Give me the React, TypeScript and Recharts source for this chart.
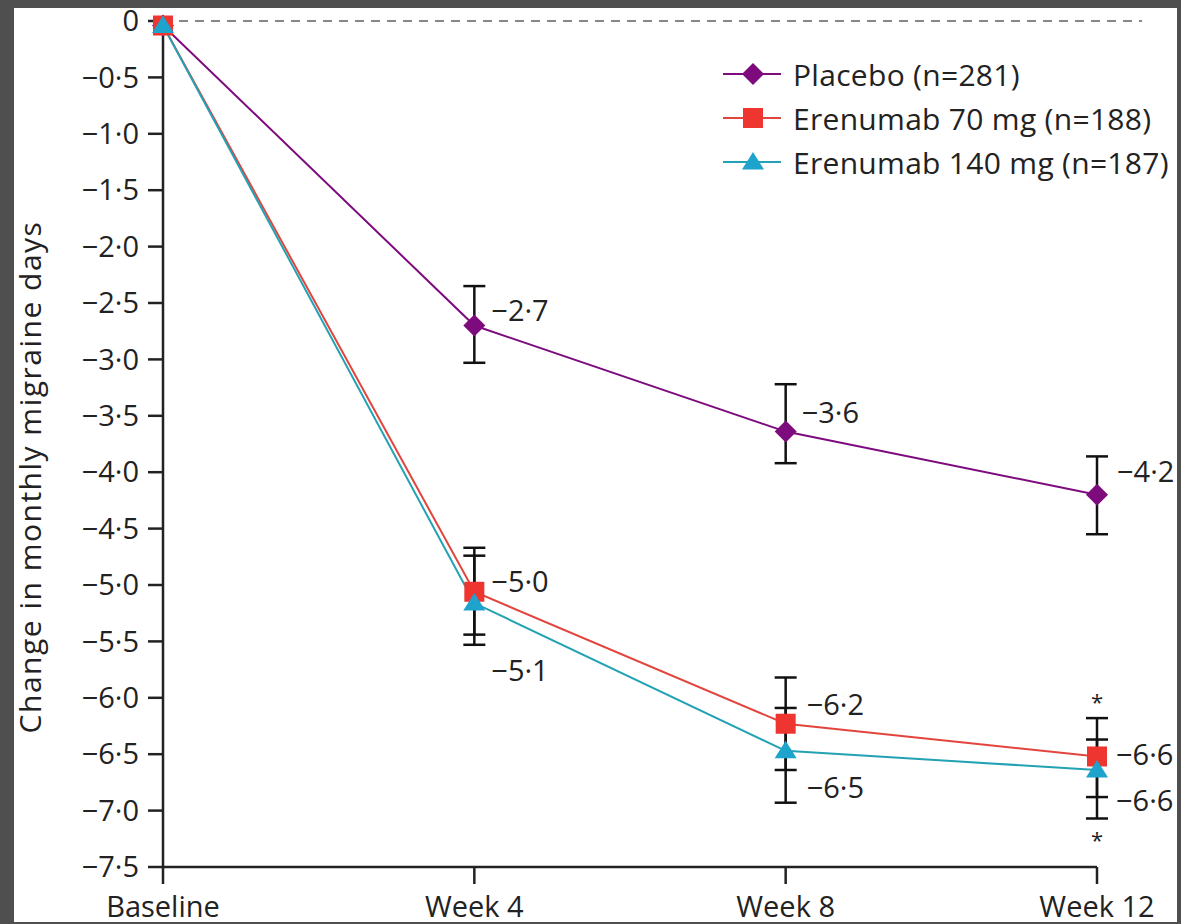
import { LineChart, Line, XAxis, YAxis, ErrorBar, ReferenceLine, LabelList, Label } from "recharts";

// values
const weeks = ["Baseline", "Week 4", "Week 8", "Week 12"];

const placebo = [-0.04, -2.7, -3.64, -4.2];
const placeboLow = [null, -3.03, -3.92, -4.55];
const placeboHigh = [null, -2.35, -3.22, -3.86];
const placeboLabels = ["", "−2·7", "−3·6", "−4·2"];

const ere70 = [-0.04, -5.06, -6.23, -6.52];
const ere70Low = [null, -5.44, -6.64, -6.88];
const ere70High = [null, -4.67, -5.82, -6.18];
const ere70Labels = ["", "−5·0", "−6·2", "−6·6"];
const ere70Sig = ["", "", "", "*"];

const ere140 = [-0.04, -5.16, -6.47, -6.64];
const ere140Low = [null, -5.53, -6.93, -7.07];
const ere140High = [null, -4.74, -6.09, -6.37];
const ere140Labels = ["", "−5·1", "−6·5", "−6·6"];
const ere140Sig = ["", "", "", "*"];

const yTicks = [0, -0.5, -1, -1.5, -2, -2.5, -3, -3.5, -4, -4.5, -5, -5.5, -6, -6.5, -7, -7.5];

const seriesNames = ["Placebo (n=281)", "Erenumab 70 mg (n=188)", "Erenumab 140 mg (n=187)"];

const PURPLE = "#7d0b7d";
const RED = "#ee3530";
const RED_LINE = "#e2453d";
const TEAL = "#1ea3cc";
const TEAL_LINE = "#22a2b4";
const FONT = "'Open Sans', sans-serif";

const err = (mean: number, low: number | null, high: number | null) =>
  low == null || high == null ? null : [mean - low, high - mean];

const data = weeks.map((w, i) => ({
  week: w,
  placebo: placebo[i],
  placeboErr: err(placebo[i], placeboLow[i], placeboHigh[i]),
  placeboLabel: placeboLabels[i],
  ere70: ere70[i],
  ere70Err: err(ere70[i], ere70Low[i], ere70High[i]),
  ere70Label: ere70Labels[i],
  ere70Sig: ere70Sig[i],
  ere140: ere140[i],
  ere140Err: err(ere140[i], ere140Low[i], ere140High[i]),
  ere140Label: ere140Labels[i],
  ere140Sig: ere140Sig[i],
}));

// label nudges [dx, dy] per point index
const nudges: Record<string, number[][]> = {
  placebo: [[0, 0], [17, -16], [16, -20], [20, -24]],
  ere70: [[0, 0], [17, -11], [21, -20], [19, -3]],
  ere140: [[0, 0], [17, 66], [21, 36], [19, 30]],
};

const fmtTick = (v: number) => (v === 0 ? "0" : "−" + Math.abs(v).toFixed(1).replace(".", "·"));

function Diamond({ cx, cy, r = 11, fill }: any) {
  return <path d={`M${cx},${cy - r}L${cx + r},${cy}L${cx},${cy + r}L${cx - r},${cy}Z`} fill={fill} />;
}
function Square({ cx, cy, r = 10, fill }: any) {
  return <rect x={cx - r} y={cy - r} width={r * 2} height={r * 2} fill={fill} />;
}
function Triangle({ cx, cy, r = 10, fill }: any) {
  return <path d={`M${cx},${cy - r}L${cx + r + 1},${cy + r * 0.75}L${cx - r - 1},${cy + r * 0.75}Z`} fill={fill} />;
}

const makeLabel = (key: string) => (p: any) => {
  const { x, y, value, index } = p;
  if (!value) return null;
  const [dx, dy] = nudges[key][index];
  return (
    <text key={`${key}-l-${index}`} x={x + dx} y={y + dy} dominantBaseline="central" fontSize={29} fontFamily={FONT} fill="#222">
      {value}
    </text>
  );
};

const makeSig = (dy: number) => (p: any) => {
  const { x, y, value, index } = p;
  if (!value) return null;
  return (
    <text key={`sig-${dy}-${index}`} x={x} y={y + dy} textAnchor="middle" dominantBaseline="central" fontSize={22} fontFamily={FONT} fill="#222">
      {value}
    </text>
  );
};

function LegendRow({ name, color, lineColor, Marker }: any) {
  return (
    <div style={{ display: "flex", alignItems: "center", height: 44 }}>
      <svg width={70} height={30}>
        <line x1={0} y1={15} x2={58} y2={15} stroke={lineColor} strokeWidth={2} />
        <Marker cx={30} cy={15} fill={color} />
      </svg>
      <span style={{ fontFamily: FONT, fontSize: 30, letterSpacing: 0.3, color: "#222", whiteSpace: "nowrap" }}>{name}</span>
    </div>
  );
}

export default function App() {
  return (
    <div style={{ position: "absolute", left: 0, top: 0, width: 1181, height: 924, background: "#4f4f4f", overflow: "hidden" }}>
      <div style={{ position: "absolute", left: 14, top: 8, width: 1163, height: 914, background: "#fff" }} />
      <div style={{ position: "absolute", left: 0, top: 0 }}>
        <LineChart width={1181} height={924} data={data} margin={{ top: 21, right: 84, bottom: 0, left: 0 }}>
          <XAxis
            dataKey="week"
            height={57}
            tickSize={17}
            tickMargin={12}
            stroke="#222"
            strokeWidth={2.5}
            tick={{ fontSize: 29, fontFamily: FONT, fill: "#222" }}
            interval={0}
          />
          <YAxis
            width={163}
            domain={[-7.5, 0]}
            ticks={yTicks}
            interval={0}
            tickSize={15}
            tickMargin={9}
            stroke="#222"
            strokeWidth={2.5}
            tickFormatter={fmtTick}
            tick={{ fontSize: 29, fontFamily: FONT, fill: "#222" }}
          >
            <Label
              content={() => (
                <text x={29} y={477} transform="rotate(-90 29 477)" textAnchor="middle" dominantBaseline="central" fontSize={30} letterSpacing={1.5} fontFamily={FONT} fill="#222">
                  Change in monthly migraine days
                </text>
              )}
            />
          </YAxis>
          <ReferenceLine
            y={0}
            shape={(p: any) => (
              <line x1={p.x1 + 16} y1={p.y1} x2={p.x2 + 45} y2={p.y2} stroke="#888" strokeWidth={2} strokeDasharray="9 7" />
            )}
          />
          <Line
            dataKey="placebo"
            stroke={PURPLE}
            strokeWidth={2}
            isAnimationActive={false}
            dot={(p: any) => <Diamond key={`pd-${p.index}`} cx={p.cx} cy={p.cy} fill={PURPLE} />}
            activeDot={false}
          >
            <ErrorBar dataKey="placeboErr" width={11} stroke="#111" strokeWidth={2.5} direction="y" />
            <LabelList dataKey="placeboLabel" content={makeLabel("placebo")} />
          </Line>
          <Line
            dataKey="ere70"
            stroke={RED_LINE}
            strokeWidth={2}
            isAnimationActive={false}
            dot={(p: any) => <Square key={`rd-${p.index}`} cx={p.cx} cy={p.cy} fill={RED} />}
            activeDot={false}
          >
            <ErrorBar dataKey="ere70Err" width={11} stroke="#111" strokeWidth={2.5} direction="y" />
            <LabelList dataKey="ere70Label" content={makeLabel("ere70")} />
            <LabelList dataKey="ere70Sig" content={makeSig(-55)} />
          </Line>
          <Line
            dataKey="ere140"
            stroke={TEAL_LINE}
            strokeWidth={2}
            isAnimationActive={false}
            dot={(p: any) => <Triangle key={`td-${p.index}`} cx={p.cx} cy={p.cy} fill={TEAL} />}
            activeDot={false}
          >
            <ErrorBar dataKey="ere140Err" width={11} stroke="#111" strokeWidth={2.5} direction="y" />
            <LabelList dataKey="ere140Label" content={makeLabel("ere140")} />
            <LabelList dataKey="ere140Sig" content={makeSig(69)} />
          </Line>
        </LineChart>
      </div>
      <div style={{ position: "absolute", left: 723, top: 52 }}>
        <LegendRow name={seriesNames[0]} color={PURPLE} lineColor={PURPLE} Marker={Diamond} />
        <LegendRow name={seriesNames[1]} color={RED} lineColor={RED_LINE} Marker={Square} />
        <LegendRow name={seriesNames[2]} color={TEAL} lineColor={TEAL_LINE} Marker={Triangle} />
      </div>
    </div>
  );
}
